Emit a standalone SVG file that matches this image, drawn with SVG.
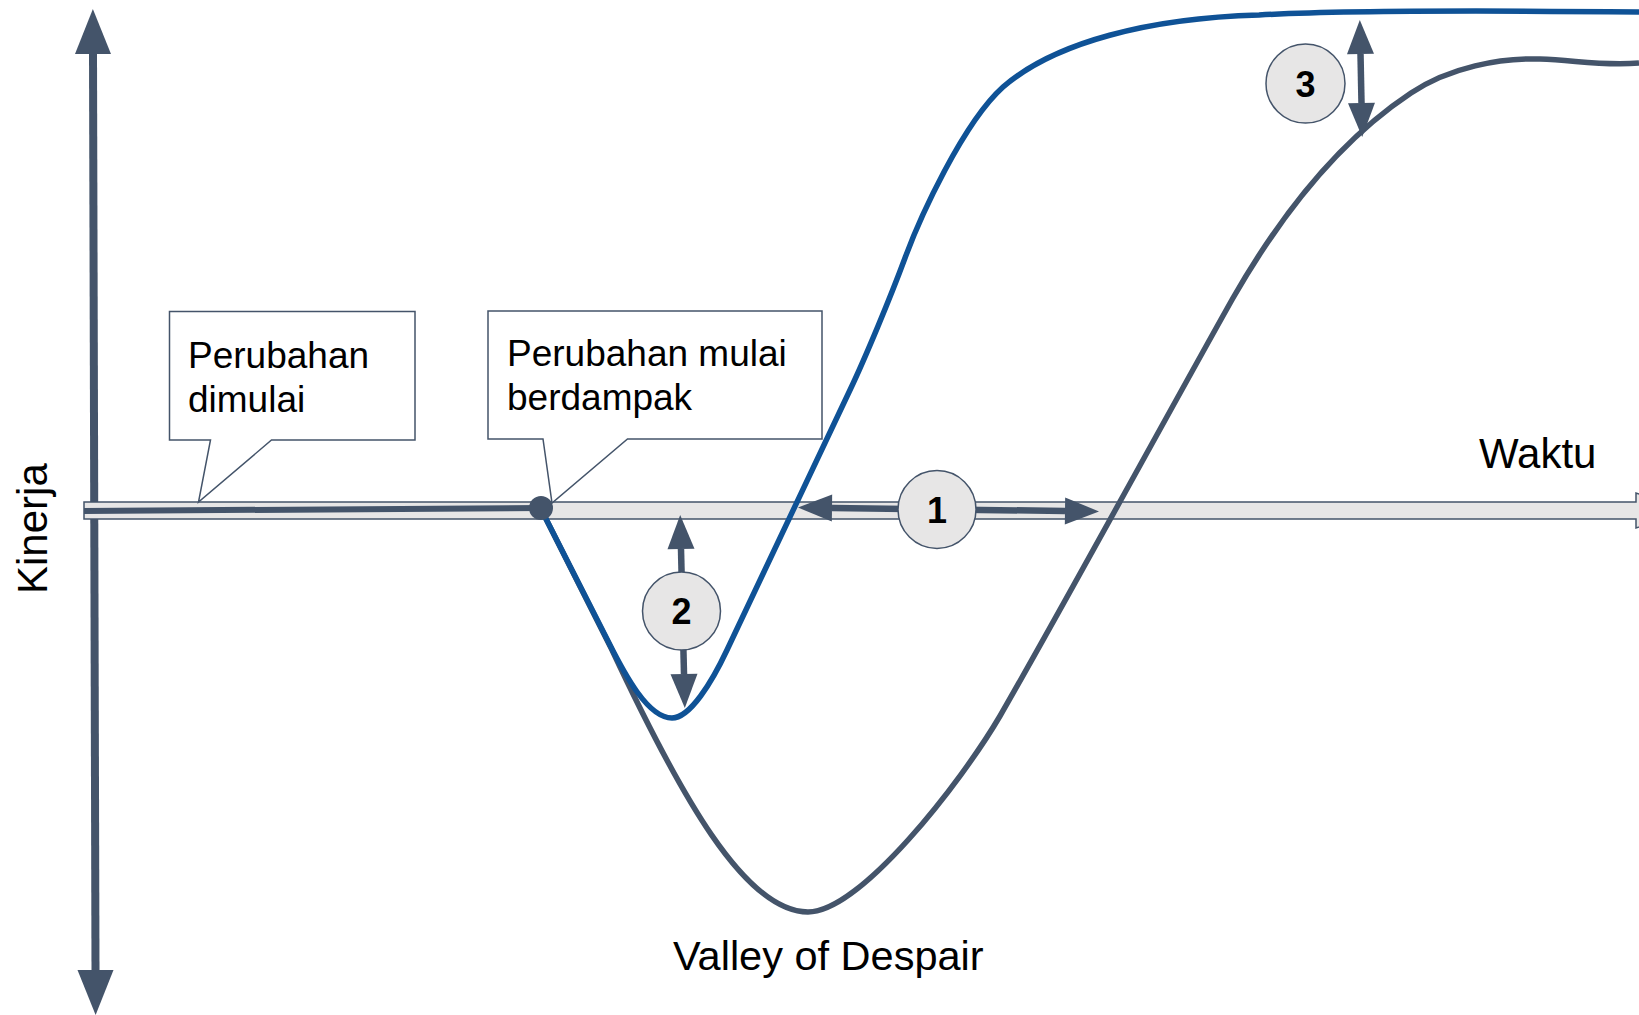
<svg xmlns="http://www.w3.org/2000/svg" width="1639" height="1015" viewBox="0 0 1639 1015">
<style>
.ax{stroke:#44546A;stroke-width:8;fill:none}
.bar{fill:#E7E6E6;stroke:#44546A;stroke-width:1.5}
.dk{stroke:#44546A;stroke-width:6;fill:none}
.cg{stroke:#44546A;stroke-width:5.5;fill:none;stroke-linejoin:round}
.cb{stroke:#0F5296;stroke-width:5.5;fill:none;stroke-linejoin:round}
.arr{stroke:#44546A;stroke-width:6.5;fill:none}
.call{fill:#FFFFFF;stroke:#44546A;stroke-width:1.5}
.num{fill:#E7E6E6;stroke:#44546A;stroke-width:1.5}
.t{font-family:"Liberation Sans",Arial,sans-serif;fill:#000000}
.tn{font-family:"Liberation Sans",Arial,sans-serif;font-weight:bold;font-size:36px;fill:#000000;text-anchor:middle}
</style>
<defs>
<marker id="ah" markerUnits="userSpaceOnUse" markerWidth="34" markerHeight="27" refX="0" refY="13.5" orient="auto-start-reverse" overflow="visible">
<path d="M0,0 L34,13.5 L0,27 Z" fill="#44546A"/>
</marker>
<marker id="ahBig" markerUnits="userSpaceOnUse" markerWidth="45" markerHeight="36" refX="0" refY="18" orient="auto-start-reverse" overflow="visible">
<path d="M0,0 L45,18 L0,36 Z" fill="#44546A"/>
</marker>
</defs>
<rect width="1639" height="1015" fill="#FFFFFF"/>

<g id="axes">
<line class="ax" x1="93" y1="54" x2="95.5" y2="970" marker-start="url(#ahBig)" marker-end="url(#ahBig)"/>
<path class="bar" d="M84,502 H1636 V493 L1690,510.5 L1636,528 V519 H84 Z"/>
<text class="t" x="1479" y="468" font-size="42">Waktu</text>
<text class="t" font-size="42" transform="translate(46.5,594) rotate(-90)">Kinerja</text>
<text class="t" x="673" y="970" font-size="41.5">Valley of Despair</text>
</g>

<g id="connectors">
<line class="dk" x1="84" y1="511" x2="541" y2="508"/>
<path class="cg" d="M541,509 L612,650 C680,795 745,912 808,912 C860,912 960,784 1000,716 C1060,612 1170,410 1233,298 C1280,216 1340,140 1411,93 C1450,67 1500,58 1540,59 C1575,60 1600,66 1639,63"/>
<path class="cb" d="M541,509 L609,643 C625,675 648,718 672,718 C690,718 712,682 727,650 L850,390 C865,358.5 890,298.5 905,258 C920,217.5 963,123 1003,87 C1055,42 1150,18 1259,15 C1330,11 1450,10 1639,12"/>
<line class="arr" x1="832" y1="508" x2="1065" y2="511" marker-start="url(#ah)" marker-end="url(#ah)"/>
<line class="arr" x1="681" y1="549" x2="684" y2="674" marker-start="url(#ah)" marker-end="url(#ah)"/>
<line class="arr" x1="1360.5" y1="54" x2="1361.5" y2="103" marker-start="url(#ah)" marker-end="url(#ah)"/>
</g>

<g id="dot-start">
<circle cx="541" cy="508" r="12" fill="#44546A"/>
</g>

<g id="callout-dimulai">
<path class="call" d="M169.5,311.5 H415 V440 H271.5 L198.5,502 L210.5,440 H169.5 Z"/>
<text class="t" font-size="37"><tspan x="188" y="368">Perubahan</tspan><tspan x="188" y="411.5">dimulai</tspan></text>
</g>

<g id="callout-berdampak">
<path class="call" d="M488,311 H822 V439 H627.5 L552,503 L543,439 H488 Z"/>
<text class="t" font-size="37"><tspan x="507" y="366">Perubahan mulai</tspan><tspan x="507" y="410">berdampak</tspan></text>
</g>

<g id="badge-1">
<circle class="num" cx="937" cy="509.5" r="39"/>
<text class="tn" x="937" y="522.5">1</text>
</g>
<g id="badge-2">
<circle class="num" cx="681.5" cy="611" r="39"/>
<text class="tn" x="681.5" y="624">2</text>
</g>
<g id="badge-3">
<circle class="num" cx="1305.5" cy="83.5" r="39.5"/>
<text class="tn" x="1305.5" y="96.5">3</text>
</g>
</svg>
